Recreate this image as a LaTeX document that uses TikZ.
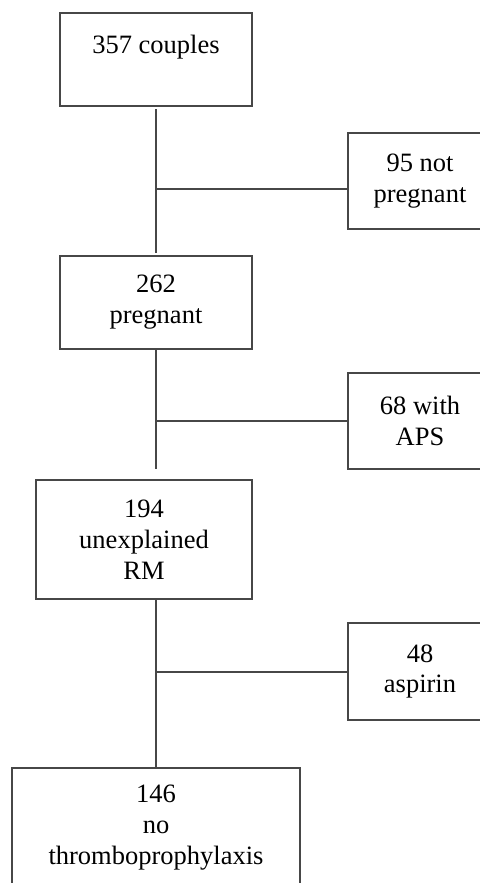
\documentclass[tikz,border=0pt]{standalone}
\usepackage{fontspec}
\setmainfont{Liberation Serif}
\usepackage{tikz}

\tikzset{
  box/.style={draw=black!72,line width=1.5pt,rectangle,align=center,inner sep=0pt,
    font=\fontsize{26.5}{31}\selectfont},
  link/.style={draw=black!72,line width=1.5pt}
}

\begin{document}
\begin{tikzpicture}[x=1pt,y=-1pt]
\useasboundingbox (0,0) rectangle (479,883);

\node [box,minimum width=192,minimum height=93] (couples) at (156,59.5) {357 couples\\ \mbox{}};
\node [box,minimum width=192,minimum height=93] (preg) at (156,302.5) {262\\pregnant};
\node [box,minimum width=216,minimum height=119] (unexpl) at (144,539.5) {194\\unexplained\\RM};
\node [box,minimum width=288,minimum height=119] (nothromb) at (156,827.5) {146\\no\\thromboprophylaxis};

\node [box,minimum width=144,minimum height=96] (notpreg) at (420,181) {95 not\\pregnant};
\node [box,minimum width=144,minimum height=96] (aps) at (420,421) {68 with\\APS};
\node [box,minimum width=144,minimum height=97] (aspirin) at (420,671.5) {48\\aspirin};

\coordinate (j1) at (156,189);
\coordinate (j2) at (156,421);
\coordinate (j3) at (156,672);
\coordinate (e2) at (156,469);

\draw [link,shorten <=2.5pt,shorten >=2.5pt] (couples) -- (preg);
\draw [link] (preg) -- (e2);
\draw [link] (unexpl.south -| nothromb.north) -- (nothromb.north);

\draw [link] (j1) -- (j1 -| notpreg.west);
\draw [link] (j2) -- (aps.west);
\draw [link] (j3) -- (j3 -| aspirin.west);
\end{tikzpicture}
\end{document}
